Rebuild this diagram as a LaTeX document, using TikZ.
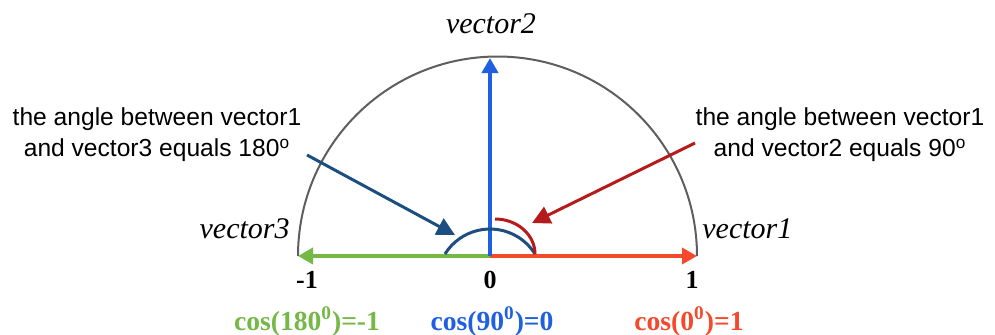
\documentclass[tikz,border=0pt]{standalone}
\usepackage{fontspec}
\setmainfont{Liberation Serif}
\newfontfamily\notefont{Liberation Sans}
\usetikzlibrary{arrows.meta}

\definecolor{vgreen}{HTML}{74B846}
\definecolor{vblue}{HTML}{1F5FE0}
\definecolor{vred}{HTML}{F4492B}
\definecolor{dblue}{HTML}{1C4E80}
\definecolor{dred}{HTML}{B51B1B}
\definecolor{arcgray}{HTML}{5E5E5E}

\begin{document}
\begin{tikzpicture}[x=0.5pt,y=0.5pt,
    axis/.style={line width=2pt,-{Triangle[length=7.5pt,width=8pt]}},
    pointer/.style={line width=1.5pt,-{Triangle[length=9pt,width=9pt]}},
    veclabel/.style={font=\fontsize{15}{18}\selectfont\itshape,inner sep=0pt},
    ticklabel/.style={font=\fontsize{13}{15}\selectfont\bfseries,inner sep=0pt,anchor=base},
    coslabel/.style={font=\fontsize{13.8}{16}\selectfont\bfseries,inner sep=0pt,anchor=base},
    note/.style={font=\notefont\fontsize{12.3}{15.5}\selectfont,align=center,inner sep=0pt}]

  \useasboundingbox (0,0) rectangle (995,334);

  % Achsenpunkte
  \coordinate (O) at (490,78);
  \coordinate (E) at (697,78);
  \coordinate (W) at (298,78);
  \coordinate (N) at (490,276);

  % Halbkreis
  \draw[arcgray,line width=1pt]
    (E) arc[start angle=0,end angle=180,radius=199.5];

  % Vektoren
  \draw[axis,vgreen] (O) -- (W);
  \draw[axis,vred] (O) -- (E);
  \draw[axis,vblue] (O) -- (N);

  % Winkelboegen
  \draw[dblue,line width=1.5pt]
    (445,80) arc[start angle=148.1,end angle=31.9,radius=53];
  \draw[dred,line width=1.5pt]
    (495,115) arc[start angle=90,end angle=0,x radius=40,y radius=35];

  % Beschriftung der Vektoren
  \node[veclabel,anchor=base] (v2) at (491,301) {vector2};
  \node[veclabel,anchor=base east] (v3) at (290,96) {vector3};
  \node[veclabel,anchor=base west] (v1) at (702,96) {vector1};

  % Skala
  \node[ticklabel] (tm1) at (307,46) {-1};
  \node[ticklabel] (t0) at (490,46) {0};
  \node[ticklabel] (t1) at (692,46) {1};

  % Kosinuswerte
  \node[coslabel,vgreen] (c180) at (307,4) {cos(180\textsuperscript{0})=-1};
  \node[coslabel,vblue] (c90) at (492,4) {cos(90\textsuperscript{0})=0};
  \node[coslabel,vred] (c0) at (689,4) {cos(0\textsuperscript{0})=1};

  % Hinweise
  \node[note] (n180) at (157,199)
    {the angle between vector1\\and vector3 equals 180\textsuperscript{o}};
  \node[note] (n90) at (840,199)
    {the angle between vector1\\and vector2 equals 90\textsuperscript{o}};

  \coordinate (p180) at (307,179);
  \coordinate (q180) at (455,99);
  \coordinate (p90) at (695,191);
  \coordinate (q90) at (532,111);

  \draw[pointer,dblue] (p180) -- (q180);
  \draw[pointer,dred] (p90) -- (q90);

\end{tikzpicture}
\end{document}
